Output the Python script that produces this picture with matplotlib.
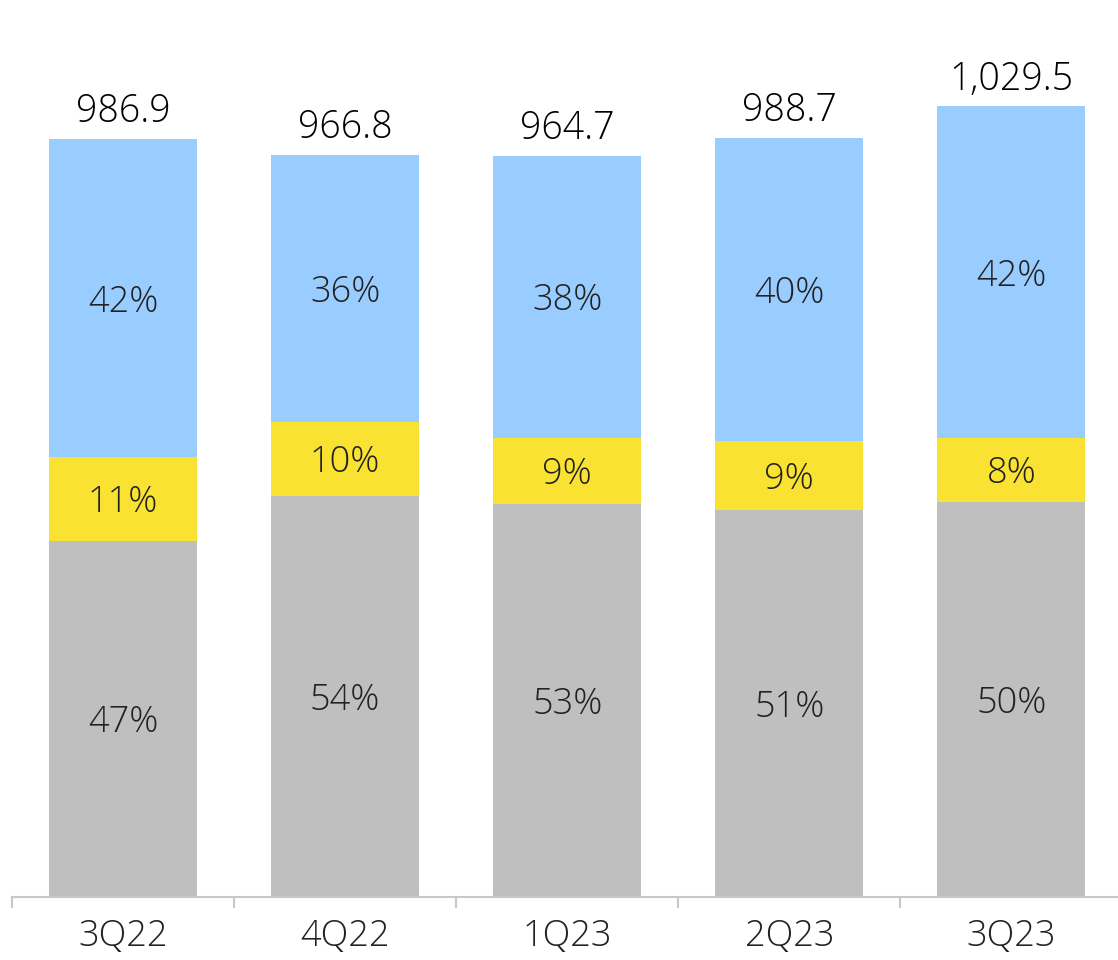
import numpy as np
from matplotlib import pyplot as plt

plt.rcParams['font.family'] = ['Open Sans', 'Noto Sans', 'DejaVu Sans']
plt.rcParams['font.weight'] = 'light'

quarters = ['3Q22', '4Q22', '1Q23', '2Q23', '3Q23']
totals = [986.9, 966.8, 964.7, 988.7, 1029.5]
total_labels = ['986.9', '966.8', '964.7', '988.7', '1,029.5']
share_gray = [47, 54, 53, 51, 50]
share_yellow = [11, 10, 9, 9, 8]
share_blue = [42, 36, 38, 40, 42]

colors = ['#BFBFBF', '#F9E231', '#99CCFF']
text_color = '#222222'

fig = plt.figure(figsize=(11.18, 9.6), dpi=100)
ax = fig.add_axes([12 / 1118, 1 - 897 / 960, 1 - 12 / 1118, 897 / 960])

x = np.arange(len(quarters))
tot = np.array(totals)
bottom = np.zeros(len(quarters))
for shares, c in zip([share_gray, share_yellow, share_blue], colors):
    h = tot * np.array(shares) / 100.0
    ax.bar(x, h, bottom=bottom, width=0.667, color=c, linewidth=0)
    for xi, b, hi, s in zip(x, bottom, h, shares):
        ax.text(xi, b + hi / 2 - 5, f'{s}%', ha='center', va='center',
                fontsize=26, color=text_color)
    bottom += h

for xi, t, lab in zip(x, totals, total_labels):
    ax.text(xi, t + 10, lab, ha='center', va='bottom', fontsize=27, color='black')

ax.set_xlim(-0.5, 4.48)
ax.set_ylim(0, 1168)

for side in ['top', 'right', 'left']:
    ax.spines[side].set_visible(False)
ax.spines['bottom'].set_color('#C8C8C8')
ax.spines['bottom'].set_linewidth(1.5)
ax.set_yticks([])
ax.set_xticks(np.arange(-0.5, 4.0, 1.0))
ax.set_xticklabels([])
ax.tick_params(axis='x', length=8, width=1.5, color='#C8C8C8')
ax.set_xticks(x, minor=True)
ax.set_xticklabels(quarters, minor=True, fontsize=26, color=text_color)
ax.tick_params(axis='x', which='minor', length=0, pad=15)

fig.savefig('out.png', dpi=100)
